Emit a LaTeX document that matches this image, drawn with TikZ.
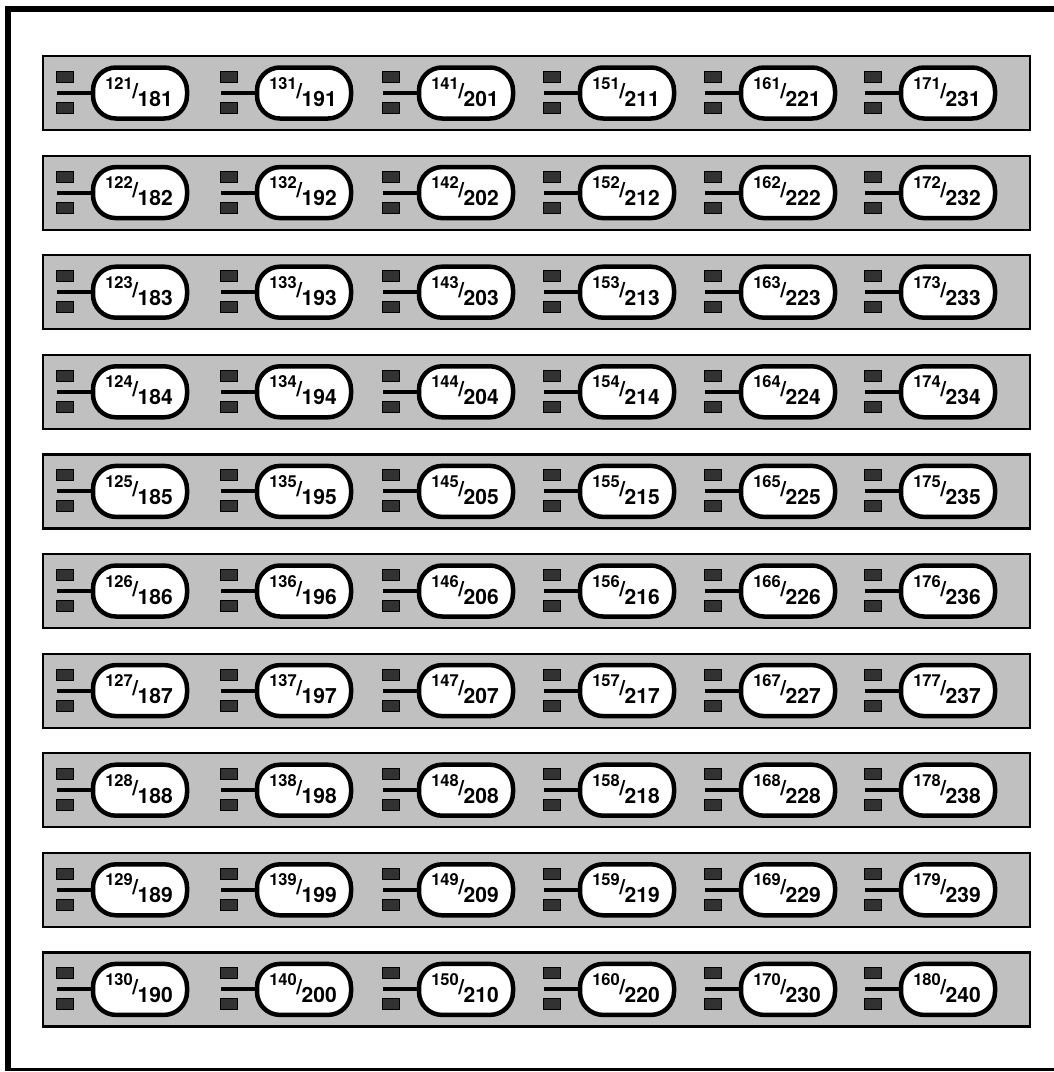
\documentclass[tikz,border=0pt]{standalone}
\usepackage{fontspec}
\setmainfont{TeX Gyre Heros}
\usepackage{tikz}
\usetikzlibrary{positioning,calc}
\definecolor{cStrip}{RGB}{192,192,192}
\definecolor{cPad}  {RGB}{50,50,50}
\tikzset{
  strip/.style={draw,fill=cStrip,line width=2.2pt,minimum width=987pt,
                minimum height=74pt,inner sep=0pt},                 % one rack row
  pad/.style={draw,fill=cPad,line width=1pt,minimum width=17pt,
              minimum height=11pt,inner sep=0pt},                   % small contact square
  pill/.style={draw,fill=white,line width=4.5pt,rounded corners=23pt,
               minimum width=94pt,minimum height=51pt,inner sep=0pt,
               text height=17pt,text depth=3pt,font=\bfseries},     % channel label
  stub/.style={-,line width=4pt},
  frame/.style={line width=6pt},
}
\newcommand{\chan}[2]{%
  \raisebox{11pt}{\fontsize{16.5}{17}\selectfont #1}%
  \kern-0.5pt\raisebox{2pt}{\fontsize{21}{21}\selectfont/}\kern-0.5pt%
  \raisebox{-6pt}{\fontsize{21}{21}\selectfont #2}\hspace*{2pt}}

\begin{document}
\begin{tikzpicture}[x=1pt,y=-1pt]
  \useasboundingbox (0,0) rectangle (1054,1072);
  % ---- outer frame (open on the right) ----
  \draw[frame] (1054,9) -- (8,9) -- (8,1070);
  \draw[line width=3pt] (5,1069.5) -- (1054,1069.5);

  % ---- rows of channels ----
  \foreach \r in {1,...,10}{
    \pgfmathsetmacro{\cy}{93+99.6*(\r-1)}
    \node[strip] (row\r) at (536.5,\cy) {};
    \foreach \c/\sx in {0/57,1/221,2/383,3/544,4/705,5/865}{
      \pgfmathtruncatemacro{\lo}{120+\r+10*\c}
      \pgfmathtruncatemacro{\hi}{\lo+60}
      \node[pad] (pu\r-\c) at (\sx+8,\cy-16) {};
      \node[pad] (pd\r-\c) at (\sx+8,\cy+15) {};
      \node[pill] (ch\r-\c) at (\sx+83,\cy) {\chan{\lo}{\hi}};
      \coordinate (s\r-\c) at (\sx,\cy);
      \draw[stub] (s\r-\c) -- (ch\r-\c.west);
    }
  }
\end{tikzpicture}
\end{document}
